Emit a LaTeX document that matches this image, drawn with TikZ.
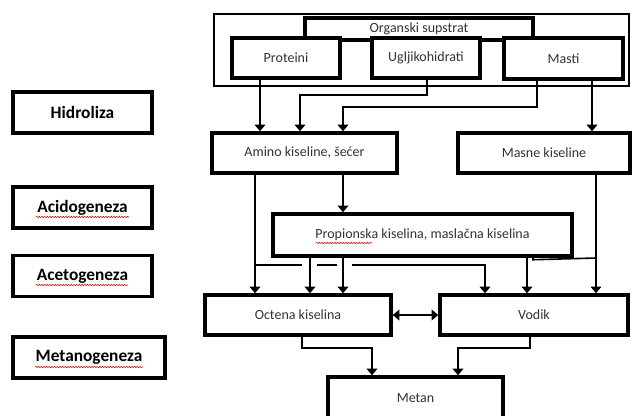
\documentclass[tikz,border=0pt]{standalone}
\usepackage{fontspec}
\setmainfont{Carlito}
\usetikzlibrary{arrows.meta}
\usetikzlibrary{decorations.pathmorphing}

\tikzset{
  box/.style={draw, line width=2.6pt, fill=white, inner sep=0pt,
    font=\fontsize{10.5}{12}\selectfont, text=black!80},
  faza/.style={box, font=\fontsize{13}{15}\selectfont\bfseries, text=black},
  veza/.style={line width=1.5pt, -{Triangle[width=8pt,length=5pt]}},
  spoj/.style={line width=1.2pt},
  vijuga/.style={red!85!black, line width=0.4pt, decorate,
    decoration={snake, amplitude=0.5pt, segment length=2pt}}
}

\begin{document}
\begin{tikzpicture}[x=0.75pt, y=-0.75pt]
\clip (0,0) rectangle (632,415);

% faze
\node[faza, minimum width=104.25pt, minimum height=30.75pt] (hidroliza) at (82.5,112.5) {Hidroliza};
\node[faza, minimum width=104.25pt, minimum height=30.75pt] (acidogeneza) at (82.5,207.5) {Acidogeneza};
\node[faza, minimum width=104.25pt, minimum height=30.75pt] (acetogeneza) at (82.5,276) {Acetogeneza};
\node[faza, minimum width=114pt, minimum height=30.75pt] (metanogeneza) at (89,357.5) {Metanogeneza};
\draw[vijuga] (36,217) -- (129,217);
\draw[vijuga] (36,285) -- (128,285);
\draw[vijuga] (35,367) -- (143,367);

% supstrat
\draw[line width=0.8pt] (214,14) rectangle (629,86);
\node[box, minimum width=171pt, minimum height=16.5pt] (organski) at (419,29) {Organski supstrat};
\node[box, minimum width=81pt, minimum height=30pt] (proteini) at (286,58) {Proteini};
\node[box, minimum width=81pt, minimum height=30pt] (uglji) at (426,58) {Ugljikohidrati};
\node[box, minimum width=89.25pt, minimum height=30.75pt] (masti) at (563.5,58.5) {Masti};

% produkti
\node[box, minimum width=138.75pt, minimum height=30pt] (amino) at (304.5,153) {Amino kiseline, šećer};
\node[box, minimum width=129pt, minimum height=30pt] (masne) at (544,153) {Masne kiseline};
\node[box, minimum width=224.25pt, minimum height=31.5pt] (propion) at (422.5,235) {Propionska kiselina, maslačna kiselina};
\draw[vijuga] (316,243) -- (372,243);
\node[box, minimum width=139.5pt, minimum height=30pt] (octena) at (298,315) {Octena kiselina};
\node[box, minimum width=141pt, minimum height=30pt] (vodik) at (534,315) {Vodik};
\node[box, minimum width=131.25pt, minimum height=31.5pt] (metan) at (415.5,398) {Metan};

% hidroliza
\draw[veza] (proteini.south -| 260,0) -- (amino.north -| 260,0);
\draw[veza] (uglji.south -| 427,0) -- (427,95) -| (amino.north -| 300,0);
\draw[veza] (masti.south -| 537,0) -- (537,107) -| (amino.north -| 343,0);
\draw[veza] (masti.south -| 592,0) -- (masne.north -| 592,0);

% acidogeneza i acetogeneza
\draw[veza] (amino.south -| 255,0) -- (octena.north -| 255,0);
\draw[veza] (amino.south -| 343,0) -- (propion.north -| 343,0);
\draw[veza] (masne.south -| 596,0) -- (vodik.north -| 596,0);
\draw[veza] (propion.south -| 310,0) -- (octena.north -| 310,0);
\draw[veza] (propion.south -| 343,0) -- (octena.north -| 343,0);
\draw[veza] (propion.south -| 527,0) -- (vodik.north -| 527,0);
\coordinate (grana) at (255,265);
\draw[spoj] (grana) -- (302,265) (317,265) -- (337,265);
\draw[veza] (352,265) -| (vodik.north -| 485,0);
\draw[spoj] (propion.south -| 533,0) -- ++(0,2) -- (596,258);

% metanogeneza
\draw[line width=1.5pt, {Triangle[width=8pt,length=5pt]}-{Triangle[width=8pt,length=5pt]}] (octena.east) -- (vodik.west);
\draw[veza] (octena.south -| 302,0) -- (302,348) -| (metan.north -| 372,0);
\draw[veza] (vodik.south -| 530,0) -- (530,348) -| (metan.north -| 458,0);
\end{tikzpicture}
\end{document}
